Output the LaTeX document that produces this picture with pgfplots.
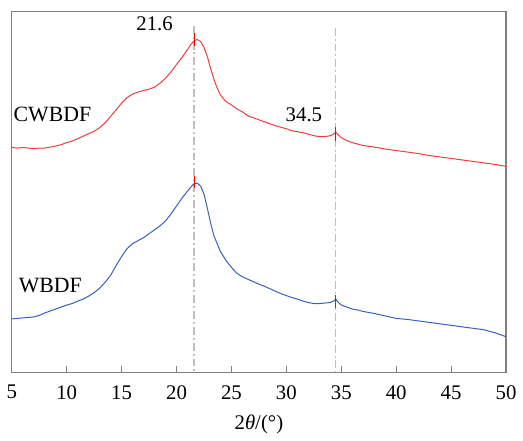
\documentclass[border=0pt]{standalone}
\usepackage{pgfplots}
\pgfplotsset{compat=1.18}
\usepackage{fontspec}
\setmainfont{Liberation Serif}
\definecolor{cred}{RGB}{240,60,60}
\definecolor{cblue}{RGB}{55,95,190}
\definecolor{frame}{RGB}{128,128,128}
\definecolor{guide}{RGB}{190,190,190}
\begin{document}
\begin{tikzpicture}
\begin{axis}[
  scale only axis, width=249.5pt, height=182pt,
  xmin=5, xmax=50, ymin=-376, ymax=-12,
  xtick={5,10,...,50}, ytick=\empty,
  xtick pos=bottom, tick align=inside,
  major tick length=3pt,
  axis line style={frame, line width=0.6pt},
  every tick/.style={frame, line width=0.6pt},
  /pgf/number format/assume math mode=true,
  ticklabel style={font=\fontsize{10.5}{12}\selectfont},
  xticklabel style={yshift=-3pt},
  xlabel={2\textit{θ}/(°)},
  xlabel style={font=\fontsize{10.5}{12}\selectfont, yshift=-1pt},
  clip=false,
]
% guide lines
\addplot[guide, line width=0.7pt, dash pattern=on 4pt off 1.5pt on 1pt off 1.5pt] coordinates {(21.6,-26) (21.6,-376)};
\addplot[guide, line width=0.7pt, dash pattern=on 4pt off 1.5pt on 1pt off 1.5pt] coordinates {(34.5,-28) (34.5,-376)};
% CWBDF
\addplot[cred, line width=0.5pt] coordinates {
(5.0,-149) (5.5,-149.5) (6.0,-149) (6.5,-149.5) (7.0,-150) (7.5,-149.5) (8.0,-149.5) (8.5,-148.5) (9.0,-147.5) (9.5,-146)
(10.0,-144) (10.5,-142.5) (11.0,-140) (11.5,-137.5) (12.0,-135) (12.5,-132.5) (13.0,-129) (13.5,-124) (14.0,-117.5) (14.5,-111)
(15.0,-104) (15.5,-98.5) (16.0,-95) (16.5,-93) (17.0,-91.5) (17.5,-90) (18.0,-88) (18.5,-84) (19.0,-79) (19.5,-72.5)
(20.0,-65) (20.5,-58) (21.0,-50) (21.3,-45) (21.6,-41) (21.9,-40) (22.2,-42) (22.5,-48) (22.8,-57) (23.1,-69)
(23.4,-80) (23.7,-89) (24.0,-96) (24.5,-102.5) (25.0,-106) (25.5,-110) (26.0,-113) (26.5,-117) (27.0,-119) (27.5,-121)
(28.0,-123) (28.5,-125) (29.0,-127) (29.5,-128.5) (30.0,-130) (30.5,-132) (31.0,-133) (31.5,-134) (32.0,-135.5) (32.5,-137)
(33.0,-138) (33.5,-138) (34.0,-137) (34.3,-135.5) (34.5,-133.5) (34.7,-136) (35.0,-139) (35.5,-142) (36.0,-144) (36.5,-145.5)
(37.0,-147) (38.0,-148.5) (39.0,-150.5) (40.0,-152) (41.0,-153.5) (42.0,-155) (43.0,-157) (44.0,-158.5) (45.0,-160) (46.0,-161.5)
(47.0,-163) (48.0,-164.5) (49.0,-166) (50.0,-168)
};
% WBDF
\addplot[cblue, line width=0.5pt] coordinates {
(5.0,-322) (5.5,-321.5) (6.0,-321) (6.5,-320.5) (7.0,-320) (7.5,-318.5) (8.0,-316) (8.5,-314) (9.0,-312) (9.5,-310)
(10.0,-308) (10.5,-306.5) (11.0,-304) (11.5,-302) (12.0,-299) (12.5,-295.5) (13.0,-291) (13.5,-285) (14.0,-278) (14.5,-268)
(15.0,-259) (15.5,-251) (16.0,-246) (16.5,-243) (17.0,-240) (17.5,-236) (18.0,-232) (18.5,-228) (19.0,-223) (19.5,-216)
(20.0,-208) (20.5,-200) (21.0,-193) (21.3,-189) (21.6,-185.5) (21.9,-185) (22.2,-188) (22.5,-196) (22.8,-210) (23.1,-225)
(23.4,-238) (23.7,-246) (24.0,-254) (24.5,-263) (25.0,-270) (25.5,-276) (26.0,-279.5) (26.5,-282) (27.0,-284.5) (27.5,-287)
(28.0,-289) (28.5,-291.5) (29.0,-294) (29.5,-296.5) (30.0,-298.5) (30.5,-300.5) (31.0,-302) (31.5,-304) (32.0,-305.5) (32.5,-306.5)
(33.0,-306.5) (33.5,-306) (34.0,-305.5) (34.3,-304) (34.5,-302) (34.7,-305) (35.0,-308) (35.5,-310) (36.0,-312) (36.5,-313)
(37.0,-314.5) (38.0,-316.5) (39.0,-319) (40.0,-321.5) (41.0,-322.5) (42.0,-324) (43.0,-325.5) (44.0,-327) (45.0,-328.5) (46.0,-330)
(47.0,-331.5) (48.0,-333) (49.0,-336) (50.0,-340)
};
% red peak markers
\addplot[red, line width=0.45pt] coordinates {(21.6,-33) (21.6,-46)};
\addplot[red, line width=0.45pt] coordinates {(21.6,-178) (21.6,-190)};
\addplot[red, line width=0.45pt] coordinates {(34.5,-128) (34.5,-142)};
\addplot[red, line width=0.45pt] coordinates {(34.5,-298) (34.5,-311)};
% labels
\node[font=\fontsize{10.5}{12}\selectfont] at (axis cs:18.0,-24) {21.6};
\node[font=\fontsize{10.5}{12}\selectfont] at (axis cs:31.6,-116) {34.5};
\node[font=\fontsize{11}{12}\selectfont] at (axis cs:8.7,-116) {CWBDF};
\node[font=\fontsize{11}{12}\selectfont] at (axis cs:8.5,-288) {WBDF};
\end{axis}
\path ([yshift=6pt]current axis.north) ([xshift=-5.5pt]current axis.west);
\end{tikzpicture}
\end{document}
